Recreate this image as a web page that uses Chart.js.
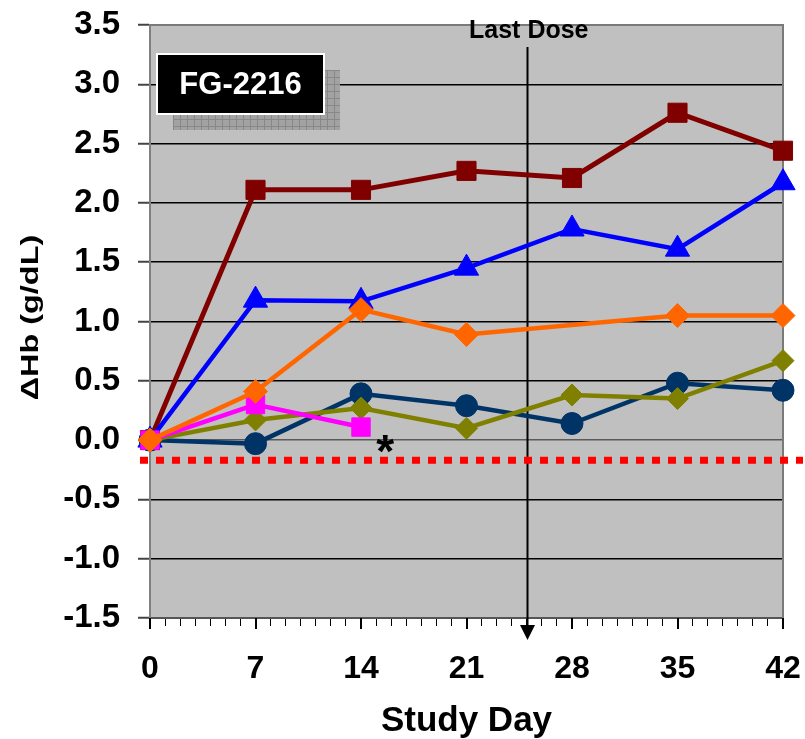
<!DOCTYPE html>
<html>
<head>
<meta charset="utf-8">
<script src="https://cdn.jsdelivr.net/npm/chart.js@4/dist/chart.umd.min.js"></script>
<style>
  html, body { margin: 0; padding: 0; background: #ffffff; }
  #wrap { width: 805px; height: 739px; position: relative; }
</style>
</head>
<body>
<div id="wrap"><canvas id="c" width="805" height="739"></canvas></div>
<script>
// ---- data ----
const days = [0, 7, 14, 21, 28, 35, 42];
const xTickLabels = ['0', '7', '14', '21', '28', '35', '42'];
const yTickLabels = ['-1.5', '-1.0', '-0.5', '0.0', '0.5', '1.0', '1.5', '2.0', '2.5', '3.0', '3.5'];
const seriesRed     = [0, 2.11, 2.11, 2.27, 2.21, 2.76, 2.44];
const seriesBlue    = [0, 1.18, 1.17, 1.45, 1.78, 1.61, 2.17];
const seriesOrange  = [0, 0.41, 1.10, 0.89, null, 1.05, 1.05];
const seriesNavy    = [0, -0.03, 0.39, 0.29, 0.14, 0.48, 0.42];
const seriesOlive   = [0, 0.17, 0.27, 0.10, 0.38, 0.35, 0.67];
const seriesMagenta = [0, 0.30, 0.11, null, null, null, null];
const thresholdValue = -0.17;
const lastDoseDay = 25;
const asteriskDay = 15.6;
const asteriskValue = 0.0;
const boxLabel = 'FG-2216';
const yTitle = '\u0394Hb (g/dL)';
const xTitle = 'Study Day';
const lastDoseLabel = 'Last Dose';

function pts(vals) {
  return days.map((d, i) => ({ x: d, y: vals[i] }));
}

function ds(vals, color, style, radius, width) {
  return {
    data: pts(vals),
    borderColor: color,
    backgroundColor: color,
    pointBackgroundColor: color,
    pointBorderColor: color,
    pointBorderWidth: 1,
    borderWidth: width,
    pointStyle: style,
    pointRadius: radius,
    pointHoverRadius: radius,
    spanGaps: true,
    tension: 0,
    clip: false
  };
}

const decor = {
  id: 'decor',
  beforeDraw(chart) {
    const { ctx, chartArea: a } = chart;
    ctx.save();
    ctx.fillStyle = '#c0c0c0';
    ctx.fillRect(a.left, a.top, a.right - a.left, a.bottom - a.top);
    ctx.restore();
  },
  beforeDatasetsDraw(chart) {
    const { ctx, chartArea: a, scales } = chart;
    const x = scales.x, y = scales.y;
    ctx.save();
    // plot border top/right
    ctx.strokeStyle = '#7a7a7a';
    ctx.lineWidth = 2;
    ctx.beginPath();
    ctx.moveTo(a.left, a.top);
    ctx.lineTo(a.right, a.top);
    ctx.lineTo(a.right, a.bottom);
    ctx.stroke();
    // major tick extensions
    ctx.strokeStyle = '#000';
    ctx.lineWidth = 2;
    days.forEach(d => {
      const px = Math.round(x.getPixelForValue(d));
      ctx.beginPath();
      ctx.moveTo(px, a.bottom);
      ctx.lineTo(px, a.bottom + 11);
      ctx.stroke();
    });
    // shadow hatched box
    const bx = a.left + 7, by = a.top + 29, bw = 167, bh = 60;
    const sx = bx + 16, sy = by + 16;
    ctx.fillStyle = '#a2a2a2';
    ctx.fillRect(sx, sy, bw, bh);
    ctx.strokeStyle = '#888888';
    ctx.lineWidth = 1;
    for (let i = 0; i <= bw; i += 7) {
      ctx.beginPath(); ctx.moveTo(sx + i + 0.5, sy); ctx.lineTo(sx + i + 0.5, sy + bh); ctx.stroke();
    }
    for (let j = 0; j <= bh; j += 7) {
      ctx.beginPath(); ctx.moveTo(sx, sy + j + 0.5); ctx.lineTo(sx + bw, sy + j + 0.5); ctx.stroke();
    }
    // black label box
    ctx.fillStyle = '#000';
    ctx.fillRect(bx, by, bw, bh);
    ctx.strokeStyle = '#ffffff';
    ctx.lineWidth = 2;
    ctx.strokeRect(bx, by, bw, bh);
    ctx.fillStyle = '#ffffff';
    ctx.font = 'bold 31px Arial, "Liberation Sans", sans-serif';
    ctx.textAlign = 'center';
    ctx.textBaseline = 'middle';
    ctx.fillText(boxLabel, bx + bw / 2, by + bh / 2 + 1);
    // last dose line + arrow
    const lx = Math.round(x.getPixelForValue(lastDoseDay)) + 0.5;
    ctx.strokeStyle = '#000';
    ctx.lineWidth = 2;
    ctx.beginPath();
    ctx.moveTo(lx, a.top + 22);
    ctx.lineTo(lx, a.bottom + 8);
    ctx.stroke();
    ctx.fillStyle = '#000';
    ctx.beginPath();
    ctx.moveTo(lx - 7.5, a.bottom + 7);
    ctx.lineTo(lx + 7.5, a.bottom + 7);
    ctx.lineTo(lx, a.bottom + 22);
    ctx.closePath();
    ctx.fill();
    // threshold dotted line
    const ty = y.getPixelForValue(thresholdValue);
    ctx.strokeStyle = '#ff0000';
    ctx.lineWidth = 7;
    ctx.setLineDash([8, 8]);
    ctx.beginPath();
    ctx.moveTo(a.left - 10, ty);
    ctx.lineTo(a.right + 20, ty);
    ctx.stroke();
    ctx.setLineDash([]);
    ctx.restore();
  },
  afterDraw(chart) {
    const { ctx, chartArea: a, scales } = chart;
    const x = scales.x, y = scales.y;
    ctx.save();
    // Last Dose label
    ctx.fillStyle = '#000';
    ctx.font = 'bold 25px Arial, "Liberation Sans", sans-serif';
    ctx.textAlign = 'center';
    ctx.textBaseline = 'middle';
    ctx.fillText(lastDoseLabel, x.getPixelForValue(lastDoseDay) + 2, a.top + 6);
    // asterisk
    ctx.font = 'bold 46px Arial, "Liberation Sans", sans-serif';
    ctx.textBaseline = 'alphabetic';
    ctx.fillText('*', x.getPixelForValue(asteriskDay), y.getPixelForValue(asteriskValue) + 27);
    // y title (stretched along its length)
    ctx.translate(31, (a.top + a.bottom) / 2 - 4);
    ctx.rotate(-Math.PI / 2);
    ctx.scale(1.35, 1);
    ctx.font = 'bold 24px Arial, "Liberation Sans", sans-serif';
    ctx.textBaseline = 'middle';
    ctx.fillText(yTitle, 0, 0);
    ctx.restore();
  }
};

new Chart(document.getElementById('c'), {
  type: 'line',
  data: {
    datasets: [
      ds(seriesOrange, '#ff6600', 'rectRot', 12, 4.5),
      ds(seriesMagenta, '#ff00ff', 'rect', 13, 4.5),
      ds(seriesOlive, '#808000', 'rectRot', 11, 4.5),
      ds(seriesNavy, '#003366', 'circle', 11, 4.5),
      ds(seriesBlue, '#0000ff', 'triangle', 14, 4.5),
      ds(seriesRed, '#800000', 'rect', 13.5, 5)
    ]
  },
  options: {
    responsive: false,
    animation: false,
    events: [],
    layout: { padding: { top: 25, right: 22, left: 0, bottom: 0 } },
    plugins: { legend: { display: false }, tooltip: { enabled: false }, title: { display: false } },
    scales: {
      x: {
        type: 'linear',
        min: 0,
        max: 42,
        afterFit: s => { s.height = 121; s.paddingLeft = 0; s.paddingRight = 0; },
        ticks: {
          stepSize: 1,
          autoSkip: false,
          maxRotation: 0,
          padding: 24,
          color: '#000',
          font: { family: 'Arial, "Liberation Sans", sans-serif', size: 32, weight: 'bold' },
          callback: v => { const i = days.indexOf(v); return i >= 0 ? xTickLabels[i] : ''; }
        },
        grid: {
          drawOnChartArea: false,
          drawTicks: true,
          tickLength: 8,
          tickColor: '#000',
          tickWidth: 1
        },
        border: { display: true, color: '#555555', width: 2 },
        title: {
          display: true,
          text: xTitle,
          color: '#000',
          font: { family: 'Arial, "Liberation Sans", sans-serif', size: 35, weight: 'bold', lineHeight: 1 },
          padding: { top: 0, bottom: 0 }
        }
      },
      y: {
        type: 'linear',
        min: -1.5,
        max: 3.5,
        afterFit: s => { s.width = 150; s.paddingTop = 0; s.paddingBottom = 0; },
        afterBuildTicks: s => { s.ticks = yTickLabels.map(t => ({ value: parseFloat(t) })); },
        ticks: {
          stepSize: 0.5,
          padding: 18,
          color: '#000',
          font: { family: 'Arial, "Liberation Sans", sans-serif', size: 33, weight: 'bold' },
          callback: v => v.toFixed(1)
        },
        grid: {
          drawOnChartArea: true,
          color: ctx => (ctx.tick && (ctx.tick.value === 0 ? '#5a5a5a' : (ctx.tick.value === 3.5 || ctx.tick.value === -1.5) ? 'rgba(0,0,0,0)' : '#000')),
          lineWidth: 1.5,
          tickLength: 12,
          tickColor: '#444',
          tickWidth: 2
        },
        border: { display: true, color: '#808080', width: 2 }
      }
    }
  },
  plugins: [decor]
});
</script>
</body>
</html>
